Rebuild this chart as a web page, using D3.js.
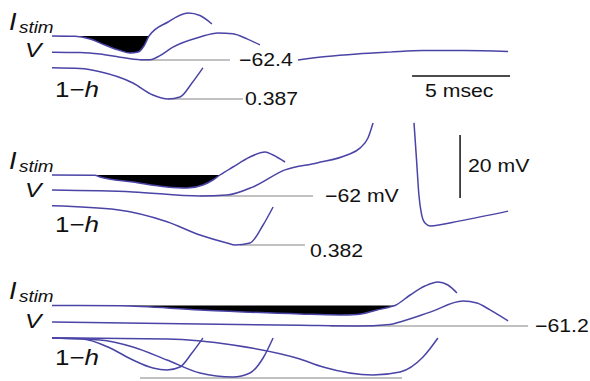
<!DOCTYPE html>
<html lang="en">
<head>
<meta charset="UTF-8"/>
<title>Istim, V and 1-h traces</title>
<script src="https://d3js.org/d3.v7.min.js"></script>
<style>
	body { margin: 0; background: #fff; }
	text { font-family: "Liberation Sans", Arial, sans-serif; fill: #111; }
</style>
</head>
<body>
<script>
	var w = 590;	// Width of the SVG
	var h = 381;	// Height of the SVG

	// ---- panel 1 (time in msec) ----
	var istim1T = [0, 1.17, 1.94, 2.70, 3.47, 3.98, 4.39, 4.69, 4.95, 5.92, 6.94, 7.55, 8.16];
	var istim1  = [0, -0.03, -0.3, -0.9, -1.45, -1.7, -1.6, -1.0, 0, 1.4, 2.3, 2.05, 1.2];
	var v1T = [0, 1.43, 2.45, 3.47, 4.49, 5.0, 5.51, 6.17, 7.55, 8.47, 9.23, 9.95, 10.61];
	var v1  = [-59.9, -60.0, -60.5, -61.5, -62.3, -62.3, -61.0, -58.3, -55.1, -53.8, -54.1, -55.7, -57.6];
	var v1bT = [12.55, 14.0, 15.56, 17.24, 18.93, 21.0, 23.27];
	var v1b  = [-62.4, -61.3, -60.5, -59.9, -59.4, -59.4, -59.7];
	var h1T = [0, 1.43, 2.45, 4.13, 5.15, 5.92, 6.53, 7.14, 7.70];
	var h1  = [0.465, 0.463, 0.455, 0.427, 0.397, 0.387, 0.392, 0.427, 0.465];

	// ---- panel 2 ----
	var istim2T = [0, 2.19, 2.45, 4.13, 5.87, 6.89, 7.70, 8.21, 8.57, 9.23, 10.10, 10.87, 11.28, 11.89];
	var istim2  = [0, -0.03, -0.2, -0.7, -1.2, -1.3, -1.0, -0.5, 0, 0.8, 1.8, 2.3, 2.0, 1.3];
	var v2T = [0, 4.13, 7.55, 8.93, 10.26, 11.89, 13.52, 15.05, 15.71, 16.12, 16.38];
	var v2  = [-60.1, -60.7, -62.0, -61.7, -59.1, -53.7, -51.5, -49.0, -46.8, -43.6, -38.8];
	var v2bT = [18.47, 18.60, 18.72, 18.85, 19.03, 19.29, 20.82, 23.27];
	var v2b  = [-38.8, -50.6, -61.7, -67.7, -70.6, -71.5, -69.9, -66.8];
	var h2T = [0, 3.32, 5.87, 7.55, 8.93, 9.34, 10.10, 10.77, 11.28];
	var h2  = [0.480, 0.470, 0.440, 0.407, 0.387, 0.382, 0.387, 0.432, 0.477];

	// ---- panel 3 ----
	var istim3T = [0, 3.47, 7.55, 12.65, 14.69, 15.56, 16.58, 17.24, 17.50, 18.27, 19.03, 19.69, 20.20, 20.66];
	var istim3  = [0, -0.03, -0.45, -0.85, -0.95, -0.9, -0.45, -0.15, 0, 1.05, 1.95, 2.35, 2.05, 1.25];
	var v3T = [0, 7.55, 12.65, 15.56, 17.24, 17.76, 19.29, 20.97, 21.68, 22.35, 23.27];
	var v3  = [-59.9, -60.6, -61.0, -61.2, -60.7, -59.9, -56.8, -53.3, -53.9, -56.1, -59.6];
	var h3aT = [0, 1.58, 2.96, 4.13, 5.15, 5.87, 6.53, 7.14, 7.70];
	var h3a  = [0.480, 0.4775, 0.455, 0.425, 0.405, 0.400, 0.4075, 0.4425, 0.480];
	var h3bT = [0, 2.45, 4.13, 5.87, 7.55, 9.23, 10.10, 10.77, 11.28];
	var h3b  = [0.480, 0.475, 0.4575, 0.425, 0.3925, 0.3825, 0.3925, 0.430, 0.480];
	var h3cT = [0, 5.87, 9.23, 12.65, 13.83, 16.38, 17.76, 18.93, 19.69];
	var h3c  = [0.480, 0.4775, 0.4625, 0.4275, 0.4075, 0.3875, 0.395, 0.4325, 0.480];

	// reference levels: value, start and end time (msec), label
	var vRefs = [[-62.4, 4.49, 9.08], [-62, 7.55, 13.32], [-61.2, 14.2, 24.29]];
	var vRefLabels = ["\u221262.4", "\u221262 mV", "\u221261.2"];
	var hRefs = [[0.387, 5.92, 9.74], [0.382, 9.59, 12.91], [0.38, 4.49, 17.86]];
	var hRefLabels = ["0.387", "0.382", ""];

	// scale bars
	var timeBar = [18.37, 23.37];	// 5 msec
	var voltBar = [-62.6, -42.6];	// 20 mV
	var timeBarLabel = "5 msec";
	var voltBarLabel = "20 mV";

	var traceColor = "#4a44a6";
	var refColor = "#adadad";
	var sx = 1.18;	// text in the figure is stretched sideways

	// panel layout (pixel rows) and label spots
	var panels = [
		{ iZero: 36,    vBase: 60,  hBase: 99,  iLab: 29,  vLab: 57,  hLab: 97,  vTx: 239, vTy: 66,  hTx: 245, hTy: 105 },
		{ iZero: 175,   vBase: 196, hBase: 245, iLab: 168, vLab: 197, hLab: 232, vTx: 325, vTy: 202, hTx: 310, hTy: 257 },
		{ iZero: 305.5, vBase: 326, hBase: 378, iLab: 298, vLab: 328, hLab: 365, vTx: 535, vTy: 332, hTx: 0,   hTy: 0 }
	];

	var istims = [[istim1T, istim1], [istim2T, istim2], [istim3T, istim3]];
	var vTraces = [[[v1T, v1], [v1bT, v1b]], [[v2T, v2], [v2bT, v2b]], [[v3T, v3]]];
	var hTraces = [[[h1T, h1]], [[h2T, h2]], [[h3aT, h3a], [h3bT, h3b], [h3cT, h3c]]];

	function pairs(t, v) {
		return t.map(function(d, i) { return [d, v[i]]; });
	}

	// shared time scale: 5 msec = 98 px
	var xScale = d3.scaleLinear()
				.domain([0, 5])
				.range([52, 150]);

	var svg = d3.select("body")
				.append("svg")
				.attr("width", w)
				.attr("height", h);

	panels.forEach(function(p, k) {
		var vMin = vRefs[k][0], hMin = hRefs[k][0];
		var vScale = d3.scaleLinear().domain([vMin, vMin + 20]).range([p.vBase, p.vBase - 63]);
		var iScale = d3.scaleLinear().domain([0, -1]).range([p.iZero, p.iZero + 10]);
		var hScale = d3.scaleLinear().domain([hMin, hMin + 0.1]).range([p.hBase, p.hBase - 40]);
		p.vScale = vScale;

		var g = svg.append("g");

		// grey reference lines
		g.append("line")
			.attr("x1", xScale(vRefs[k][1])).attr("x2", xScale(vRefs[k][2]))
			.attr("y1", vScale(vMin)).attr("y2", vScale(vMin))
			.attr("stroke", refColor).attr("stroke-width", 1.3);
		g.append("line")
			.attr("x1", xScale(hRefs[k][1])).attr("x2", xScale(hRefs[k][2]))
			.attr("y1", hScale(hMin)).attr("y2", hScale(hMin))
			.attr("stroke", refColor).attr("stroke-width", 1.3);

		// stimulus: black area while the current is negative
		var iData = pairs(istims[k][0], istims[k][1]);
		var area = d3.area()
			.x(function(d) { return xScale(d[0]); })
			.y0(iScale(0))
			.y1(function(d) { return iScale(d[1]); })
			.curve(d3.curveMonotoneX);
		g.append("path")
			.datum(iData.filter(function(d) { return d[1] <= 0; }))
			.attr("d", area)
			.attr("fill", "#000");

		var iLine = d3.line()
			.x(function(d) { return xScale(d[0]); })
			.y(function(d) { return iScale(d[1]); })
			.curve(d3.curveMonotoneX);
		g.append("path")
			.datum(iData)
			.attr("d", iLine)
			.attr("fill", "none").attr("stroke", traceColor).attr("stroke-width", 1.5);

		var vLine = d3.line()
			.x(function(d) { return xScale(d[0]); })
			.y(function(d) { return vScale(d[1]); })
			.curve(d3.curveMonotoneX);
		vTraces[k].forEach(function(tr) {
			g.append("path")
				.datum(pairs(tr[0], tr[1]))
				.attr("d", vLine)
				.attr("fill", "none").attr("stroke", traceColor).attr("stroke-width", 1.5);
		});

		var hLine = d3.line()
			.x(function(d) { return xScale(d[0]); })
			.y(function(d) { return hScale(d[1]); })
			.curve(d3.curveMonotoneX);
		hTraces[k].forEach(function(tr) {
			g.append("path")
				.datum(pairs(tr[0], tr[1]))
				.attr("d", hLine)
				.attr("fill", "none").attr("stroke", traceColor).attr("stroke-width", 1.5);
		});

		// trace names
		g.append("text")
			.attr("transform", "translate(9," + (p.iLab + 1) + ") scale(" + sx + ",1)")
			.style("font-size", "23px").style("font-style", "italic")
			.text("I");
		g.append("text")
			.attr("transform", "translate(19," + (p.iLab + 4) + ") scale(" + sx + ",1)")
			.style("font-size", "16px").style("font-style", "italic")
			.text("stim");
		g.append("text")
			.attr("transform", "translate(25," + p.vLab + ") scale(" + sx + ",1)")
			.style("font-size", "21px").style("font-style", "italic")
			.text("V");
		var hl = g.append("text")
			.attr("transform", "translate(55," + p.hLab + ") scale(" + sx + ",1)")
			.style("font-size", "22px");
		hl.append("tspan").text("1\u2212");
		hl.append("tspan").style("font-style", "italic").text("h");

		// value labels
		g.append("text")
			.attr("transform", "translate(" + p.vTx + "," + p.vTy + ") scale(" + sx + ",1)")
			.style("font-size", "18px")
			.text(vRefLabels[k]);
		if (hRefLabels[k]) {
			g.append("text")
				.attr("transform", "translate(" + p.hTx + "," + p.hTy + ") scale(" + sx + ",1)")
				.style("font-size", "18px")
				.text(hRefLabels[k]);
		}
	});

	// scale bars
	svg.append("line")
		.attr("x1", xScale(timeBar[0])).attr("x2", xScale(timeBar[1]))
		.attr("y1", 76).attr("y2", 76)
		.attr("stroke", "#111").attr("stroke-width", 1.5);
	svg.append("text")
		.attr("transform", "translate(425,97) scale(" + sx + ",1)")
		.style("font-size", "18px")
		.text(timeBarLabel);

	var vs = panels[1].vScale;
	svg.append("line")
		.attr("x1", xScale(20.82)).attr("x2", xScale(20.82))
		.attr("y1", vs(voltBar[0])).attr("y2", vs(voltBar[1]))
		.attr("stroke", "#111").attr("stroke-width", 1.5);
	svg.append("text")
		.attr("transform", "translate(468,172) scale(" + sx + ",1)")
		.style("font-size", "18px")
		.text(voltBarLabel);
</script>
</body>
</html>
